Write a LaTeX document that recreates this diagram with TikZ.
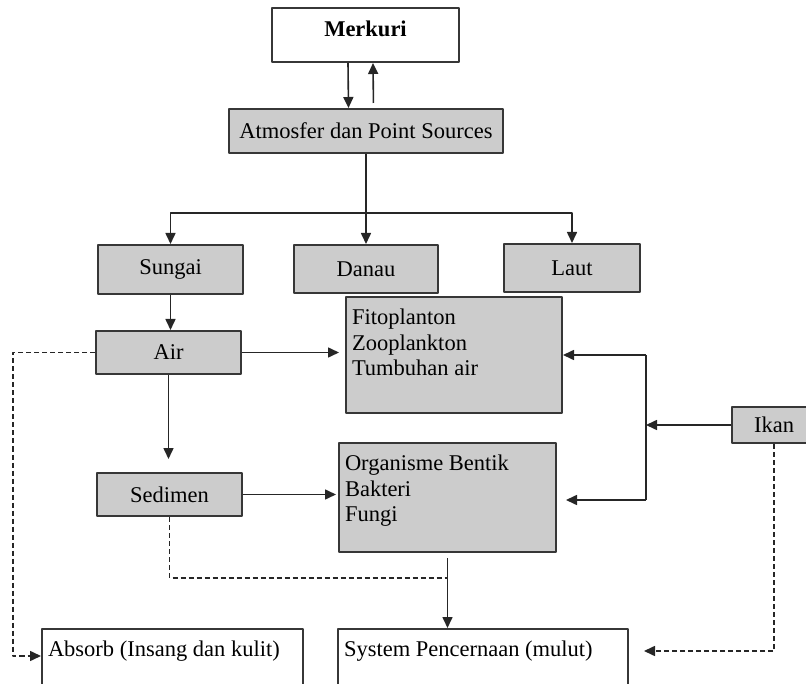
\documentclass[tikz,border=0pt]{standalone}
\usepackage{fontspec}
\setmainfont{Liberation Serif}
\usetikzlibrary{arrows.meta}

\begin{document}
\begin{tikzpicture}[
      x=1pt, y=-1pt,
      line join=round,
      every node/.style={font=\fontsize{22.5}{25.5}\selectfont}
  ]

  % Warna kotak dan garis
  \definecolor{abukotak}{RGB}{204, 204, 204}
  \definecolor{garistepi}{RGB}{55, 55, 55}

  \tikzset{
      kotak/.style={draw=garistepi, fill=abukotak, line width=2pt, inner sep=0pt},
      kotakputih/.style={kotak, fill=white},
      garis/.style={draw=black!85, line width=1.6pt},
      garisputus/.style={garis, dash pattern=on 5pt off 3pt},
      panah/.style={garis, -{Triangle[length=11pt, width=10pt]}},
      putus/.style={panah, dash pattern=on 5pt off 3pt}
  }

  \useasboundingbox (0,0) rectangle (806,684);
  \clip (0,0) rectangle (806,684);

  % 1. Sumber merkuri
  \node[kotakputih, minimum width=187pt, minimum height=54pt, text depth=12pt,
        font=\fontsize{22.5}{25.5}\selectfont\bfseries] (merkuri) at (365.5,35) {Merkuri};
  \node[kotak, minimum width=274pt, minimum height=44pt] (atmosfer) at (366,131) {Atmosfer dan Point Sources};

  % 2. Badan air
  \node[kotak, minimum width=145pt, minimum height=49pt] (sungai) at (170.5,269.5) {Sungai};
  \node[kotak, minimum width=144pt, minimum height=48pt] (danau) at (366,269) {Danau};
  \node[kotak, minimum width=136pt, minimum height=48pt] (laut) at (572,268) {Laut};

  \node[kotak, minimum width=145pt, minimum height=43pt] (air) at (168.5,352.5) {Air};
  \node[kotak, minimum width=145pt, minimum height=43pt] (sedimen) at (169.5,494.5) {Sedimen};

  % 3. Organisme
  \node[kotak, inner xsep=6pt, inner ysep=12pt] (fito) at (454,355)
      {\parbox[c][92pt][t]{204pt}{Fitoplanton\\Zooplankton\\Tumbuhan air}};
  \node[kotak, inner xsep=6pt, inner ysep=12pt] (organisme) at (447.5,497.5)
      {\parbox[c][85pt][t]{205pt}{Organisme Bentik\\Bakteri\\Fungi}};
  \node[kotak, minimum width=84pt, minimum height=36pt] (ikan) at (774,425) {Ikan};

  % 4. Jalur masuk
  \node[kotakputih, inner xsep=6pt, inner ysep=12pt] (absorb) at (172.5,674)
      {\parbox[c][66pt][t]{249pt}{Absorb (Insang dan kulit)}};
  \node[kotakputih, inner xsep=6pt, inner ysep=12pt] (system) at (483,674)
      {\parbox[c][66pt][t]{278pt}{System Pencernaan (mulut)}};

  % Titik belok
  \coordinate (cabang) at (366,213);
  \coordinate (atas) at (646,355);
  \coordinate (bawah) at (646,500);
  \coordinate (kiri) at (13,656);
  \coordinate (gabung) at (447.5,578);
  \coordinate (kanan) at (775,651);

  % 5. Panah
  \draw[panah] ([xshift=-17.5pt]merkuri.south) -- ([xshift=-17.5pt]atmosfer.north);
  \draw[panah, shorten <=5pt] ([xshift=7.5pt]atmosfer.north) -- ([xshift=7.5pt]merkuri.south);
  \draw[panah] (atmosfer.south) -- (danau.north);
  \draw[panah] (cabang) -| (sungai.north);
  \draw[panah] (cabang) -| (laut.north);
  \draw[panah] (sungai.south) -- (sungai.south |- air.north);
  \draw[panah, shorten >=13pt] (air.south) -- (air.south |- sedimen.north);
  \draw[panah, shorten >=6pt] (air.east) -- (air.east -| fito.west);
  \draw[panah, shorten >=2pt] (sedimen.east) -- (sedimen.east -| organisme.west);

  \draw[garis] (atas) -- (bawah);
  \draw[panah] (ikan.west) -- (ikan.west -| atas);
  \draw[panah] (atas) -- (atas -| fito.east);
  \draw[panah, shorten >=9pt] (bawah) -- (bawah -| organisme.east);
  \draw[panah, shorten <=5pt] (organisme.south) -- (organisme.south |- system.north);

  % 6. Garis putus-putus
  \draw[putus] (air.west) -| (kiri) -- (kiri -| absorb.west);
  \draw[garisputus] (sedimen.south) |- (gabung);
  \draw[putus, shorten >=15pt] (ikan.south) |- (kanan -| system.east);

\end{tikzpicture}
\end{document}
